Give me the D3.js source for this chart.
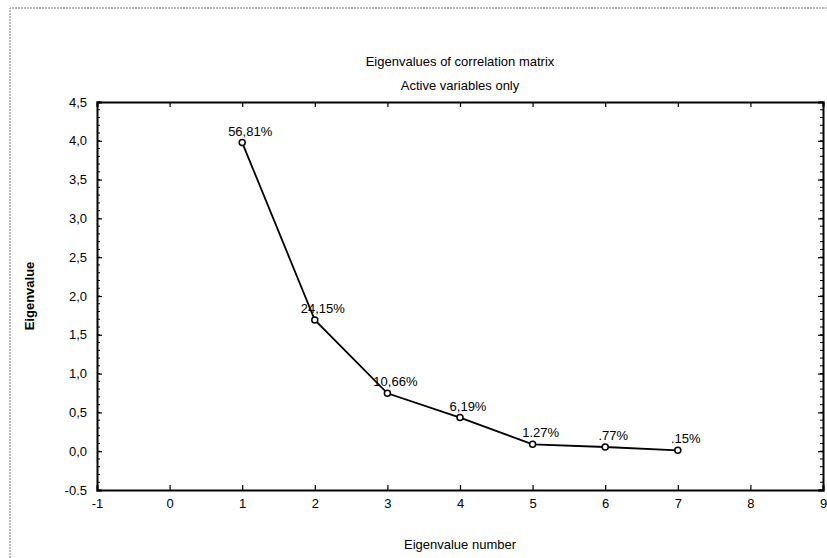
<!DOCTYPE html>
<html>
<head>
<meta charset="utf-8">
<script src="https://cdn.jsdelivr.net/npm/d3@7"></script>
<style>
  body { margin: 0; background: #fff; }
  svg { font-family: "Liberation Sans", Arial, sans-serif; }
  .lbl { font-size: 13px; fill: #000; }
</style>
</head>
<body>
<svg width="827" height="558"></svg>
<script>
var svg = d3.select('svg');

// Data
var eigenNumbers = [1, 2, 3, 4, 5, 6, 7];
var eigenValues = [3.977, 1.691, 0.746, 0.433, 0.089, 0.054, 0.011];
var pctLabels = ['56,81%', '24,15%', '10,66%', '6,19%', '1.27%', '.77%', '.15%'];
var xTicks = [-1, 0, 1, 2, 3, 4, 5, 6, 7, 8, 9];
var xTickLabels = ['-1', '0', '1', '2', '3', '4', '5', '6', '7', '8', '9'];
var yTicks = [4.5, 4.0, 3.5, 3.0, 2.5, 2.0, 1.5, 1.0, 0.5, 0.0, -0.5];
var yTickLabels = ['4,5', '4,0', '3,5', '3,0', '2,5', '2,0', '1,5', '1,0', '0,5', '0,0', '-0.5'];

// Layout
var plot = {l: 97, r: 823, t: 102, b: 490};

var xScale = d3.scaleLinear().domain([-1, 9]).range([plot.l, plot.r]);
var yScale = d3.scaleLinear().domain([-0.5, 4.5]).range([plot.b, plot.t]);

// Outer dotted figure border
svg.append('path')
    .attr('d', 'M10,558 L10,8 L827,8')
    .attr('fill', 'none')
    .attr('stroke', '#777')
    .attr('stroke-width', 1)
    .attr('stroke-dasharray', '2,1');

// Titles
svg.append('text').attr('class', 'lbl')
    .attr('x', (plot.l + plot.r) / 2).attr('y', 66)
    .attr('text-anchor', 'middle')
    .text('Eigenvalues of correlation matrix');
svg.append('text').attr('class', 'lbl')
    .attr('x', (plot.l + plot.r) / 2).attr('y', 90)
    .attr('text-anchor', 'middle')
    .text('Active variables only');

// Axes: ticks point inward on all four sides
var minorY = d3.range(-0.5, 4.5001, 0.1);

var leftAxis = d3.axisLeft(yScale).tickValues(yTicks)
    .tickFormat(function(d, i) { return yTickLabels[i]; })
    .tickSize(-5).tickPadding(10);
var leftG = svg.append('g').attr('transform', 'translate(' + plot.l + ',0)').call(leftAxis);
leftG.append('g').selectAll('line').data(minorY).enter().append('line')
    .attr('x1', 0).attr('x2', 3)
    .attr('y1', function(d) { return yScale(d); })
    .attr('y2', function(d) { return yScale(d); })
    .attr('stroke', '#000');

var rightAxis = d3.axisRight(yScale).tickValues(yTicks).tickFormat('').tickSize(-5);
var rightG = svg.append('g').attr('transform', 'translate(' + plot.r + ',0)').call(rightAxis);
rightG.append('g').selectAll('line').data(minorY).enter().append('line')
    .attr('x1', 0).attr('x2', -3)
    .attr('y1', function(d) { return yScale(d); })
    .attr('y2', function(d) { return yScale(d); })
    .attr('stroke', '#000');

var bottomAxis = d3.axisBottom(xScale).tickValues(xTicks)
    .tickFormat(function(d, i) { return xTickLabels[i]; })
    .tickSize(-5).tickPadding(9);
svg.append('g').attr('transform', 'translate(0,' + plot.b + ')').call(bottomAxis);

var topAxis = d3.axisTop(xScale).tickValues(xTicks).tickFormat('').tickSize(-5);
svg.append('g').attr('transform', 'translate(0,' + plot.t + ')').call(topAxis);

svg.selectAll('.domain').attr('stroke', '#000').attr('stroke-width', 2);
svg.selectAll('.tick line').attr('stroke', '#000').attr('stroke-width', 1.2);
svg.selectAll('.tick text').attr('font-size', 13).attr('fill', '#000')
    .attr('font-family', '"Liberation Sans", Arial, sans-serif');

// Axis titles
svg.append('text').attr('class', 'lbl')
    .attr('x', (plot.l + plot.r) / 2).attr('y', 549)
    .attr('text-anchor', 'middle')
    .text('Eigenvalue number');
svg.append('text').attr('class', 'lbl')
    .attr('transform', 'translate(34,' + (plot.t + plot.b) / 2 + ') rotate(-90)')
    .attr('text-anchor', 'middle')
    .attr('font-weight', 'bold')
    .attr('font-size', 12)
    .text('Eigenvalue');

// Line and markers
var line = d3.line()
    .x(function(d, i) { return xScale(eigenNumbers[i]); })
    .y(function(d) { return yScale(d); });

svg.append('path')
    .datum(eigenValues)
    .attr('d', line)
    .attr('fill', 'none')
    .attr('stroke', '#000')
    .attr('stroke-width', 1.8);

svg.selectAll('.pt').data(eigenValues).enter().append('circle')
    .attr('class', 'pt')
    .attr('cx', function(d, i) { return xScale(eigenNumbers[i]); })
    .attr('cy', function(d) { return yScale(d); })
    .attr('r', 3)
    .attr('fill', '#fff')
    .attr('stroke', '#000')
    .attr('stroke-width', 1.5);

svg.selectAll('.pct').data(eigenValues).enter().append('text')
    .attr('class', 'lbl pct')
    .attr('x', function(d, i) { return xScale(eigenNumbers[i]) + 8; })
    .attr('y', function(d) { return yScale(d) - 7; })
    .attr('text-anchor', 'middle')
    .text(function(d, i) { return pctLabels[i]; });
</script>
</body>
</html>
